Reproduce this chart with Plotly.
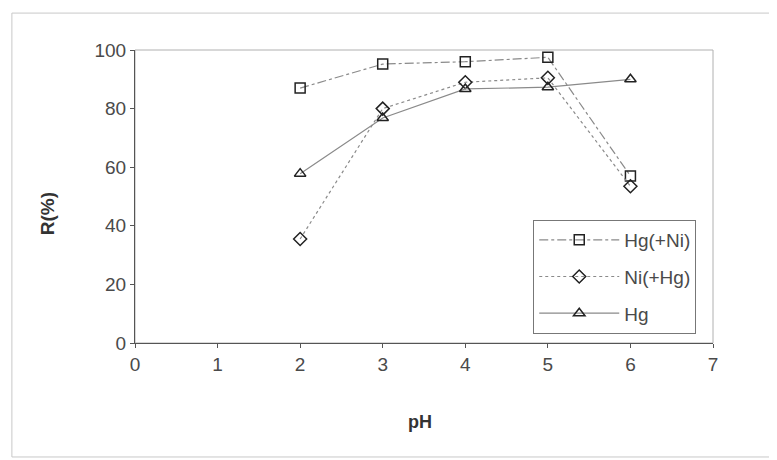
import plotly.graph_objects as go

# data
ph = [2, 3, 4, 5, 6]
hg_ni = [87, 95.2, 96, 97.5, 57]
ni_hg = [35.5, 80, 89, 90.5, 53.5]
hg = [57.8, 76.8, 86.7, 87.3, 90]

series = [
    ("Hg(+Ni)", hg_ni, "square-open", "dashdot"),
    ("Ni(+Hg)", ni_hg, "diamond-open", "dot"),
    ("Hg", hg, "triangle-up-open", "solid"),
]

fig = go.Figure()
for i, (name, vals, symbol, dash) in enumerate(series):
    fig.add_trace(go.Scatter(
        x=ph, y=vals, name=name, mode="lines+markers",
        legendgroup=str(i),
        line=dict(color="#8a8a8a", width=1.2, dash=dash),
        marker=dict(symbol=symbol, size=10, color="#222222", line=dict(width=1.5)),
    ))

# plot area frame (light) and outer chart frame (right side runs off the page)
fig.add_shape(type="rect", xref="paper", yref="paper", x0=0, y0=0, x1=1, y1=1,
              line=dict(color="#b0b0b0", width=1), layer="below")
fig.add_shape(type="rect", xref="paper", yref="paper", x0=-0.213, y0=-0.389, x1=1.2, y1=1.126,
              line=dict(color="#c8c8c8", width=1), layer="below")

# axis titles placed like the original
fig.add_annotation(text="<b>R(%)</b>", xref="paper", yref="paper", x=-0.152, y=0.44,
                   xanchor="center", yanchor="middle",
                   textangle=-90, showarrow=False, font=dict(size=19, color="#333333"))
fig.add_annotation(text="<b>pH</b>", xref="paper", yref="paper", x=0.493, y=-0.27,
                   xanchor="center", yanchor="middle",
                   showarrow=False, font=dict(size=18, color="#333333"))

fig.update_layout(
    width=777, height=460,
    # the page body adds 8px, margins compensate for it
    margin=dict(l=127, r=72, t=42, b=125),
    plot_bgcolor="white", paper_bgcolor="white",
    font=dict(family="Liberation Sans, Arial", size=19, color="#4a4a4a"),
    showlegend=True,
    legend=dict(
        x=0.689, y=0.42, xanchor="left", yanchor="top",
        bordercolor="#777777", borderwidth=1, bgcolor="white",
        font=dict(family="Liberation Sans, Arial", size=19, color="#4a4a4a"),
        tracegroupgap=9, itemwidth=80,
    ),
    xaxis=dict(
        range=[0, 7], dtick=1, showgrid=False, zeroline=False,
        showline=True, linecolor="#555555", linewidth=1,
        ticks="outside", ticklen=4, tickcolor="#555555",
    ),
    yaxis=dict(
        range=[0, 100], dtick=20, showgrid=False, zeroline=False,
        showline=True, linecolor="#555555", linewidth=1,
        ticks="outside", ticklen=4, tickcolor="#555555",
    ),
)

fig.write_html("out.html")
